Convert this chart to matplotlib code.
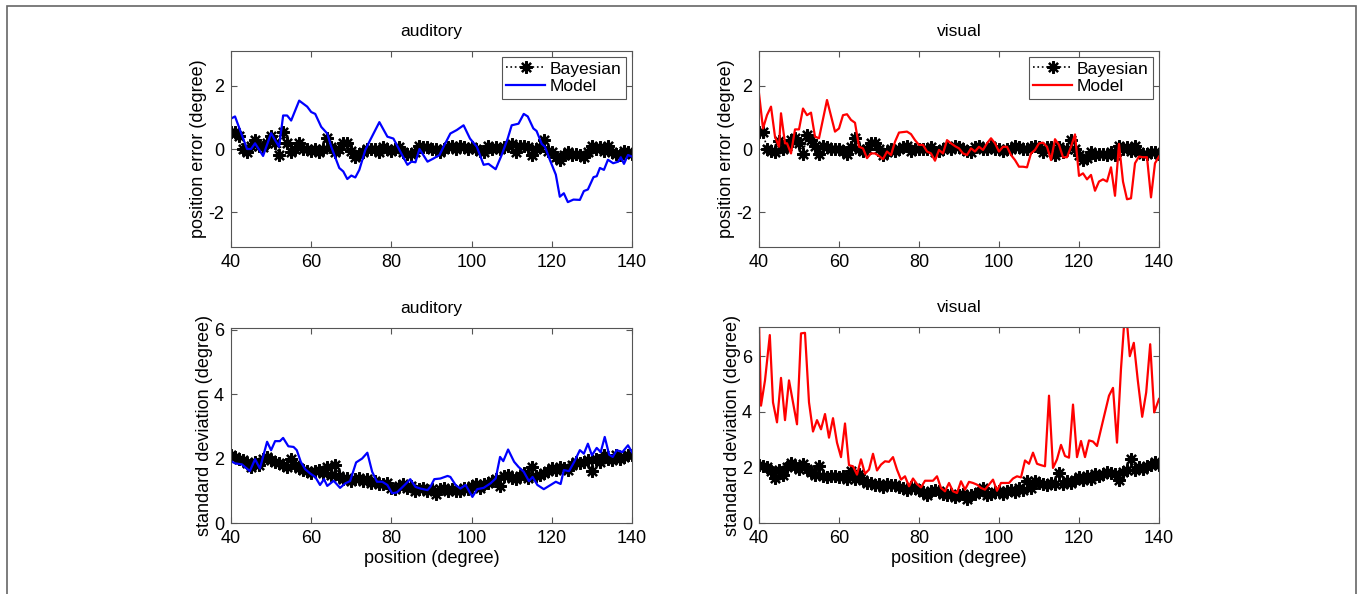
import matplotlib
matplotlib.use("Agg")
import matplotlib.pyplot as plt
import numpy as np

plt.rcParams["font.family"] = ["Liberation Sans", "DejaVu Sans"]
plt.rcParams["font.size"] = 12.5
plt.rcParams["axes.unicode_minus"] = False

# positions (degree) for the Bayesian estimates
pos = np.arange(40, 141)

# ---- position error, auditory ----
bay_err_aud = [0.55, 0.55, 0.4, 0.0, -0.1, 0.1, 0.3, 0.1, 0.05, 0.2,
               0.4, 0.2, -0.2, 0.55, 0.2, -0.1, 0.0, 0.2, 0.0, 0.0,
               -0.05, 0.0, -0.1, 0.0, 0.35, 0.05, -0.1, 0.0, 0.2, 0.2,
               -0.05, -0.25, -0.15, -0.1, 0.0, 0.0, 0.0, -0.1, 0.05, 0.0,
               -0.05, 0.0, 0.05, -0.1, -0.15, -0.15, -0.1, 0.1, 0.05, 0.05,
               0.0, 0.0, -0.1, 0.0, 0.05, 0.1, 0.0, 0.1, 0.05, 0.0,
               0.05, 0.0, -0.05, -0.1, 0.1, 0.0, 0.05, 0.0, 0.05, 0.1,
               0.15, -0.1, 0.1, 0.1, 0.05, -0.2, 0.0, 0.05, 0.3, -0.05,
               -0.1, -0.25, -0.35, -0.2, -0.1, -0.2, -0.15, -0.2, -0.25, -0.1,
               0.1, 0.0, 0.05, -0.05, 0.1, -0.1, -0.15, -0.2, -0.05, -0.1,
               -0.15]
mod_x_aud = [40, 41, 44, 45, 46, 48, 50, 51, 52, 53, 54, 55, 57, 59, 60, 61,
             62.5, 64, 65, 67, 68, 69, 70, 71, 72, 73.5, 74.7, 77, 79, 80.5,
             82, 84, 85, 86, 87, 89, 90.5, 92, 93, 94.7, 96.3, 98, 99.6,
             101.3, 103, 104.2, 106, 107.5, 109, 110, 111.7, 113, 114, 115.4,
             116.2, 117.5, 118.3, 119.5, 121, 122, 123, 124, 125.4, 127,
             128, 129, 130.4, 131.2, 132, 133, 134, 135.3, 136.6, 137.2, 138,
             139, 140]
mod_err_aud = [0.96, 1.03, 0.0, 0.0, 0.18, -0.22, 0.5, 0.28, 0.07, 1.06, 1.06,
               0.9, 1.53, 1.34, 1.17, 1.11, 0.7, 0.49, 0.07, -0.6, -0.71,
               -0.95, -0.84, -0.9, -0.66, -0.03, 0.28, 0.85, 0.39, 0.33,
               -0.03, -0.5, -0.4, -0.42, 0.0, -0.4, -0.3, -0.19, 0.07, 0.49,
               0.6, 0.75, 0.33, 0.07, -0.5, -0.47, -0.64, -0.19, 0.33, 0.75,
               0.8, 1.11, 1.03, 0.65, 0.57, 0.16, 0.07, -0.34, -0.81, -1.51,
               -1.4, -1.68, -1.6, -1.61, -1.33, -1.28, -0.89, -0.86, -0.6,
               -0.66, -0.34, -0.45, -0.4, -0.26, -0.47, -0.19, -0.24]

# ---- position error, visual ----
bay_err_vis = [0.55, 0.55, 0.0, -0.05, -0.1, 0.25, 0.0, 0.1, 0.3, 0.35,
               0.2, -0.15, 0.45, 0.3, 0.1, -0.15, 0.1, 0.05, 0.0, 0.0,
               0.0, -0.05, -0.15, 0.05, 0.35, 0.0, -0.05, 0.0, 0.2, 0.2,
               0.0, -0.2, -0.1, 0.0, -0.05, 0.0, 0.05, 0.1, -0.05, 0.0,
               0.0, 0.0, 0.0, 0.05, -0.1, -0.05, 0.0, 0.05, 0.0, 0.1,
               0.05, 0.0, -0.05, -0.1, 0.05, 0.1, 0.0, 0.0, 0.1, 0.0,
               0.0, -0.05, 0.0, 0.0, 0.1, 0.05, 0.0, 0.0, 0.05, 0.1,
               0.05, -0.1, 0.05, 0.05, -0.2, 0.05, -0.1, 0.0, 0.3, 0.0,
               -0.2, -0.35, -0.3, -0.1, -0.2, -0.15, -0.15, -0.2, -0.1, -0.2,
               0.1, 0.0, 0.05, -0.05, 0.1, -0.1, -0.15, -0.15, -0.1, -0.1,
               -0.15]
mod_x_vis = [40, 41, 42, 43, 44, 45, 45.5, 46.5, 47, 48, 49, 50, 51, 52, 53,
             54, 55, 57, 59, 60, 61, 62, 63, 64, 65, 66, 67, 68, 69, 70, 71,
             72, 73, 74, 75, 77, 78, 79, 80, 81, 82, 83, 84, 85, 86, 87, 88,
             89, 90, 91, 92, 93, 94, 95, 96, 97, 98, 99, 100, 101, 102, 103,
             104, 105, 106, 107, 108, 109, 110, 111, 112, 113, 114, 115, 116,
             117, 118, 119, 120, 121, 122, 123, 124, 125, 126, 127, 128, 129,
             130, 131, 132, 133, 134, 135, 136, 137, 138, 139, 140]
mod_err_vis = [1.76, 0.65, 1.07, 1.34, 0.39, 0.07, 1.13, 0.18, 0.18, -0.14,
               0.62, 0.62, 1.28, 1.07, 1.15, 0.39, 0.34, 1.55, 0.55, 0.65,
               1.07, 1.1, 0.92, 0.83, 0.07, 0.02, -0.29, -0.14, -0.14, -0.22,
               -0.32, -0.08, -0.19, 0.23, 0.52, 0.55, 0.47, 0.28, 0.13, 0.13,
               -0.08, -0.14, -0.37, -0.03, -0.14, 0.28, 0.18, 0.09, 0.02,
               -0.14, -0.19, 0.02, -0.08, 0.07, -0.03, 0.18, 0.34, 0.18,
               -0.08, 0.07, 0.07, -0.19, -0.35, -0.56, -0.56, -0.58, -0.14,
               -0.03, 0.18, 0.2, 0.07, -0.35, 0.31, 0.13, -0.26, -0.26, 0.07,
               0.46, -0.85, -0.77, -0.96, -0.82, -1.32, -1.03, -0.96, -1.03,
               -0.58, -1.48, 0.16, -1.03, -1.59, -1.56, -0.45, -0.24, -0.26,
               -0.26, -1.53, -0.45, -0.24]

# ---- standard deviation, auditory ----
bay_sd_aud = [2.1, 2.05, 2.0, 1.95, 1.85, 1.75, 1.9, 1.8, 2.0, 2.05,
              1.95, 1.9, 1.85, 1.8, 1.75, 2.0, 1.8, 1.7, 1.65, 1.6,
              1.55, 1.6, 1.65, 1.55, 1.75, 1.5, 1.8, 1.45, 1.35, 1.4,
              1.3, 1.35, 1.4, 1.3, 1.35, 1.25, 1.3, 1.2, 1.2, 1.25,
              1.1, 1.05, 1.15, 1.2, 1.1, 1.15, 1.0, 1.05, 1.1, 1.0,
              1.05, 0.9, 1.05, 1.1, 1.0, 1.05, 1.0, 1.0, 1.1, 1.05,
              1.15, 1.2, 1.1, 1.2, 1.25, 1.3, 1.35, 1.15, 1.45, 1.5,
              1.4, 1.35, 1.45, 1.55, 1.4, 1.75, 1.45, 1.5, 1.55, 1.6,
              1.7, 1.65, 1.75, 1.7, 1.65, 1.8, 1.9, 1.85, 1.9, 1.95,
              1.6, 2.0, 1.9, 2.1, 2.0, 1.95, 2.1, 2.0, 2.05, 2.1,
              2.1]
mod_x_sd_aud = [40, 41, 42.7, 44.7, 46, 47.2, 49, 50, 51, 52.2, 53, 54.3,
                55.6, 56.4, 57.4, 58.5, 59.7, 61, 62.2, 63.2, 64, 65.6, 67.2,
                68.5, 69.7, 71.2, 72.7, 74, 75.2, 76.4, 77.7, 79, 80.2, 81.4,
                82.4, 83.7, 84.7, 86, 87.2, 89, 89.7, 90.7, 92.2, 94, 94.7,
                96, 97.2, 98.5, 100.2, 101.4, 103, 104.7, 106, 107.1, 107.9,
                109.1, 110.6, 111.7, 113, 114.3, 115.2, 116.4, 118, 119.7,
                121, 122.2, 123, 124.3, 125.6, 127, 128, 129, 130, 131.2,
                132.2, 133.2, 134.3, 135.2, 136.2, 137.6, 139, 140]
mod_sd_aud = [1.92, 1.85, 1.82, 1.61, 1.98, 1.69, 2.52, 2.26, 2.54, 2.54,
              2.64, 2.38, 2.36, 2.26, 1.9, 1.67, 1.54, 1.43, 1.18, 1.36,
              1.15, 1.31, 1.09, 1.23, 1.3, 1.88, 2.0, 2.18, 1.59, 1.28, 1.28,
              1.18, 0.92, 0.95, 1.07, 1.23, 1.36, 1.12, 1.07, 1.02, 1.12,
              1.36, 1.38, 1.46, 1.43, 1.18, 1.07, 1.18, 0.81, 1.05, 1.09,
              1.23, 1.38, 2.05, 1.92, 2.28, 1.9, 1.74, 1.59, 1.3, 1.43, 1.18,
              1.05, 1.18, 1.28, 1.21, 1.64, 1.61, 1.9, 2.26, 2.15, 2.46, 2.1,
              2.33, 2.2, 2.67, 2.12, 2.05, 2.26, 2.2, 2.41, 2.2]

# ---- standard deviation, visual ----
bay_sd_vis = [2.1, 2.05, 2.0, 1.86, 1.62, 1.9, 1.74, 2.0, 2.16, 2.05,
              1.95, 2.13, 1.95, 1.85, 1.72, 2.04, 1.7, 1.65, 1.7, 1.7,
              1.65, 1.7, 1.6, 1.86, 1.6, 1.75, 1.55, 1.45, 1.45, 1.35,
              1.4, 1.3, 1.4, 1.35, 1.35, 1.3, 1.25, 1.2, 1.3, 1.25,
              1.2, 1.1, 1.0, 1.15, 1.2, 1.15, 1.05, 1.0, 1.05, 0.95,
              1.0, 1.05, 0.85, 1.0, 1.05, 1.1, 1.25, 1.0, 1.05, 1.1,
              1.15, 1.05, 1.15, 1.2, 1.1, 1.25, 1.2, 1.5, 1.25, 1.5,
              1.45, 1.4, 1.35, 1.45, 1.4, 1.8, 1.4, 1.5, 1.45, 1.55,
              1.65, 1.55, 1.7, 1.6, 1.75, 1.7, 1.75, 1.85, 1.8, 1.75,
              1.56, 1.85, 1.9, 2.29, 1.9, 2.0, 1.95, 2.05, 2.1, 2.2,
              2.1]
mod_x_sd_vis = [40, 40.5, 41.5, 42.7, 43.5, 44.5, 45.5, 46.5, 47.5, 48.5,
                49.5, 50.5, 51.5, 52.5, 53.5, 54.5, 55.5, 56.5, 57.5, 58.5,
                59.5, 60.5, 61.5, 62.5, 63.5, 64.5, 65.5, 66.5, 67.5, 68.5,
                69.5, 70.5, 71.5, 72.5, 73.5, 74.5, 75.5, 76.5, 77.5, 78.5,
                79.5, 80.5, 81.5, 82.5, 83.5, 84.5, 85.5, 86.5, 87.5, 88.5,
                89.5, 90.5, 91.5, 92.5, 93.5, 94.5, 95.5, 96.5, 97.5, 98.5,
                99.5, 100.5, 101.5, 102.5, 103.5, 104.5, 105.5, 106.5, 107.5,
                108.5, 109.5, 110.5, 111.5, 112.5, 113.5, 114.5, 115.5, 116.5,
                117.5, 118.5, 119.5, 120.5, 121.5, 122.5, 123.5, 124.5, 126,
                127.5, 128.5, 129.5, 130.5, 131.3, 132, 132.7, 133.7, 134.7,
                135.8, 136.8, 137.8, 138.8, 140]
mod_sd_vis = [7.2, 4.22, 5.13, 6.76, 4.34, 3.62, 5.22, 3.7, 5.13, 4.34, 3.55,
              6.82, 6.84, 4.34, 3.29, 3.7, 3.37, 3.92, 3.07, 3.77, 2.89, 2.37,
              3.58, 2.08, 2.04, 1.74, 2.29, 1.77, 1.92, 2.49, 1.89, 2.1, 2.22,
              2.2, 2.37, 1.92, 1.56, 1.68, 1.32, 1.6, 1.4, 1.28, 1.52, 1.52,
              1.52, 1.68, 1.26, 1.14, 1.44, 1.14, 1.08, 1.5, 1.2, 1.48, 1.44,
              1.38, 1.26, 1.2, 1.38, 1.56, 1.16, 1.44, 1.44, 1.44, 1.6, 1.68,
              1.64, 2.25, 2.13, 2.53, 2.13, 2.08, 2.04, 4.58, 1.98, 2.29,
              2.81, 2.41, 2.35, 4.26, 2.37, 2.95, 2.37, 2.97, 2.93, 2.77,
              3.68, 4.58, 4.86, 2.89, 5.55, 7.2, 7.2, 6.0, 6.48, 5.13, 3.82,
              4.7, 6.43, 3.98, 4.46]

W, H = 1362, 594
fig = plt.figure(figsize=(W / 100, H / 100), dpi=100)

# thin frame round the whole figure
fig.patches.append(plt.Rectangle((7 / W, -0.01), 1349 / W, 1 - 6 / H + 0.01,
                                 transform=fig.transFigure, fill=False,
                                 edgecolor="#666666", linewidth=1.2))

star = (8, 2, 0)
panels = [
    ([231, 51, 632, 247], "auditory", bay_err_aud, mod_x_aud, mod_err_aud,
     "blue", (-3.1, 3.1), [-2, 0, 2], "position error (degree)", True, False),
    ([759, 51, 1159, 247], "visual", bay_err_vis, mod_x_vis, mod_err_vis,
     "red", (-3.1, 3.1), [-2, 0, 2], "position error (degree)", True, False),
    ([231, 328, 632, 523], "auditory", bay_sd_aud, mod_x_sd_aud, mod_sd_aud,
     "blue", (0, 6.05), [0, 2, 4, 6], "standard deviation (degree)", False, True),
    ([759, 327, 1159, 523], "visual", bay_sd_vis, mod_x_sd_vis, mod_sd_vis,
     "red", (0, 7.05), [0, 2, 4, 6], "standard deviation (degree)", False, True),
]

for box, title, bay, mx, my, col, ylim, yt, ylab, leg, xlab in panels:
    l, t, r, b = box
    ax = fig.add_axes([l / W, 1 - b / H, (r - l) / W, (b - t) / H])
    ax.plot(pos, bay, linestyle=":", color="black", marker=star,
            markersize=9, markeredgewidth=1.6, linewidth=1.2, label="Bayesian")
    ax.plot(mx, my, color=col, linewidth=1.6, label="Model")
    ax.set_xlim(40, 140)
    ax.set_ylim(*ylim)
    ax.set_xticks([40, 60, 80, 100, 120, 140])
    ax.set_yticks(yt)
    ax.tick_params(direction="in", top=True, right=True, length=4,
                   color="#555555", pad=5, labelsize=13)
    for s in ax.spines.values():
        s.set_color("#555555")
        s.set_linewidth(0.8)
    ax.set_title(title, fontsize=12.5, pad=11)
    ax.set_ylabel(ylab, labelpad=1, fontsize=13)
    if xlab:
        ax.set_xlabel("position (degree)", labelpad=2, fontsize=13)
    if leg:
        lg = ax.legend(loc="upper right", fancybox=False, framealpha=1,
                       edgecolor="#555555", borderpad=0.25, handlelength=2.2,
                       handletextpad=0.3, labelspacing=0.15,
                       borderaxespad=0.35, fontsize=12.5)
        lg.get_frame().set_linewidth(0.8)

fig.savefig("out.png", dpi=100)
